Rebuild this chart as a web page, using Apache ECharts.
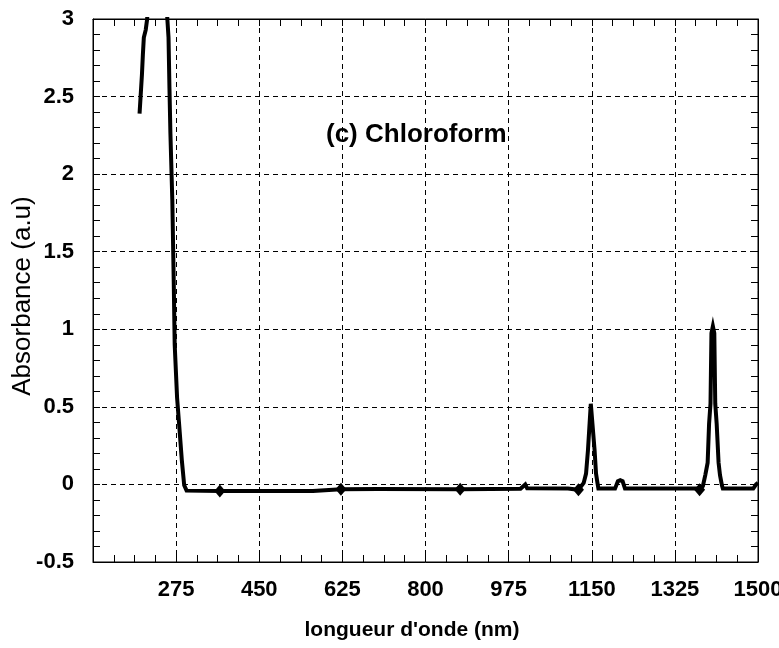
<!DOCTYPE html>
<html>
<head>
<meta charset="utf-8">
<script src="https://cdn.jsdelivr.net/npm/echarts@6/dist/echarts.min.js"></script>
<style>
  html, body { margin: 0; padding: 0; background: #fff; }
  #chart { width: 779px; height: 648px; }
</style>
</head>
<body>
<div id="chart"></div>
<script>
// ---- data ----
var wavelength = [198, 200, 203, 205, 207, 211, 214, 220, 235, 250, 256.5, 259, 261, 263, 267, 270, 272, 277, 281, 287, 292, 297,
  367, 563, 565, 622, 700, 873, 1000, 1010, 1012, 1014, 1100, 1122, 1133, 1138, 1142, 1148, 1150, 1156, 1159, 1162, 1164,
  1199, 1205, 1210, 1215, 1220, 1370, 1377, 1384, 1389, 1394, 1397, 1400, 1402, 1405, 1408, 1410, 1413, 1417, 1420, 1424, 1426,
  1490, 1496, 1500];
var absorbance = [2.39, 2.49, 2.64, 2.77, 2.88, 2.93, 3.0, 3.4, 3.8, 3.4, 3.0, 2.88, 2.55, 2.26, 1.83, 1.30, 0.90, 0.56, 0.40, 0.156, -0.005, -0.04,
  -0.042, -0.042, -0.032, -0.031, -0.030, -0.031, -0.028, 0.0, 0.01, -0.025, -0.027, -0.035, 0.01, 0.07, 0.22, 0.52, 0.52, 0.22, 0.07, 0.01, -0.027,
  -0.027, 0.02, 0.027, 0.02, -0.027, -0.027, -0.035, -0.01, 0.06, 0.14, 0.39, 0.52, 0.975, 1.02, 0.975, 0.52, 0.39, 0.14, 0.06, -0.005, -0.027,
  -0.027, 0.0, 0.01];
var markerWavelength = [367, 622, 873, 1122, 1377];
var markerAbsorbance = [-0.042, -0.031, -0.031, -0.035, -0.035];
var xTickValues = [275, 450, 625, 800, 975, 1150, 1325, 1500];
var yTickValues = [-0.5, 0, 0.5, 1, 1.5, 2, 2.5, 3];
var chartTitle = '(c) Chloroform';
var xTitle = "longueur d'onde (nm)";
var yTitle = 'Absorbance (a.u)';

// ---- chart ----
var lineData = wavelength.map(function (w, i) { return [w, absorbance[i]]; });
var markerData = markerWavelength.map(function (w, i) { return [w, markerAbsorbance[i]]; });

var FONT = '"Liberation Sans", Arial, sans-serif';
var grid = { left: 93, top: 19, right: 21, bottom: 86 };
var dashed = { show: true, lineStyle: { color: '#000', width: 1, type: [5, 4] } };
var tickStyle = { show: true, inside: true, length: 7, lineStyle: { color: '#000', width: 1 } };

function xLabel(v) { return xTickValues.indexOf(v) >= 0 ? String(v) : ''; }
function yLabel(v) {
  for (var i = 0; i < yTickValues.length; i++) {
    if (Math.abs(yTickValues[i] - v) < 1e-9) return String(yTickValues[i]);
  }
  return '';
}

var chart = echarts.init(document.getElementById('chart'), null, { renderer: 'canvas' });
chart.setOption({
  animation: false,
  backgroundColor: '#fff',
  grid: Object.assign({ show: true, containLabel: false, outerBoundsMode: 'none',
    borderColor: '#000', borderWidth: 1, backgroundColor: 'transparent' }, grid),
  xAxis: [{
    type: 'value', min: 100, max: 1500, interval: 175, position: 'bottom',
    axisLine: { show: true, onZero: false, lineStyle: { color: '#000', width: 1 } },
    axisTick: tickStyle,
    minorTick: { show: true, splitNumber: 4, length: 7, lineStyle: { color: '#000', width: 1 } },
    splitLine: dashed,
    axisLabel: { formatter: xLabel, margin: 17, fontFamily: FONT, fontSize: 22, fontWeight: 'bold', color: '#000' }
  }, {
    type: 'value', min: 100, max: 1500, interval: 175, position: 'top',
    axisLine: { show: true, onZero: false, lineStyle: { color: '#000', width: 1 } },
    axisTick: tickStyle,
    minorTick: { show: true, splitNumber: 4, length: 7, lineStyle: { color: '#000', width: 1 } },
    splitLine: { show: false },
    axisLabel: { show: false }
  }],
  yAxis: [{
    type: 'value', min: -0.5, max: 3, interval: 0.5, position: 'left',
    axisLine: { show: true, onZero: false, lineStyle: { color: '#000', width: 1 } },
    axisTick: tickStyle,
    minorTick: { show: true, splitNumber: 5, length: 7, lineStyle: { color: '#000', width: 1 } },
    splitLine: dashed,
    axisLabel: { formatter: yLabel, margin: 19, fontFamily: FONT, fontSize: 22, fontWeight: 'bold', color: '#000' }
  }, {
    type: 'value', min: -0.5, max: 3, interval: 0.5, position: 'right',
    axisLine: { show: true, onZero: false, lineStyle: { color: '#000', width: 1 } },
    axisTick: tickStyle,
    minorTick: { show: true, splitNumber: 5, length: 7, lineStyle: { color: '#000', width: 1 } },
    splitLine: { show: false },
    axisLabel: { show: false }
  }],
  graphic: [{
    type: 'text', left: 326, top: 122, z: 10,
    style: { text: chartTitle, font: 'bold 26px ' + FONT, fill: '#000' }
  }, {
    type: 'text', x: 412, y: 630, z: 10,
    style: { text: xTitle, font: 'bold 21px ' + FONT, fill: '#000', align: 'center', verticalAlign: 'middle' }
  }, {
    type: 'text', x: 23, y: 296, rotation: Math.PI / 2, z: 10,
    style: { text: yTitle, font: '26px ' + FONT, fill: '#000', align: 'center', verticalAlign: 'middle' }
  }],
  series: [{
    type: 'line', xAxisIndex: 0, yAxisIndex: 0, data: lineData,
    showSymbol: false, symbol: 'none', clip: true, silent: true,
    lineStyle: { color: '#000', width: 4, join: 'miter' }
  }, {
    type: 'scatter', xAxisIndex: 0, yAxisIndex: 0, data: markerData,
    symbol: 'diamond', symbolSize: [11, 13], silent: true,
    itemStyle: { color: '#000', opacity: 1 }
  }]
});
</script>
</body>
</html>
